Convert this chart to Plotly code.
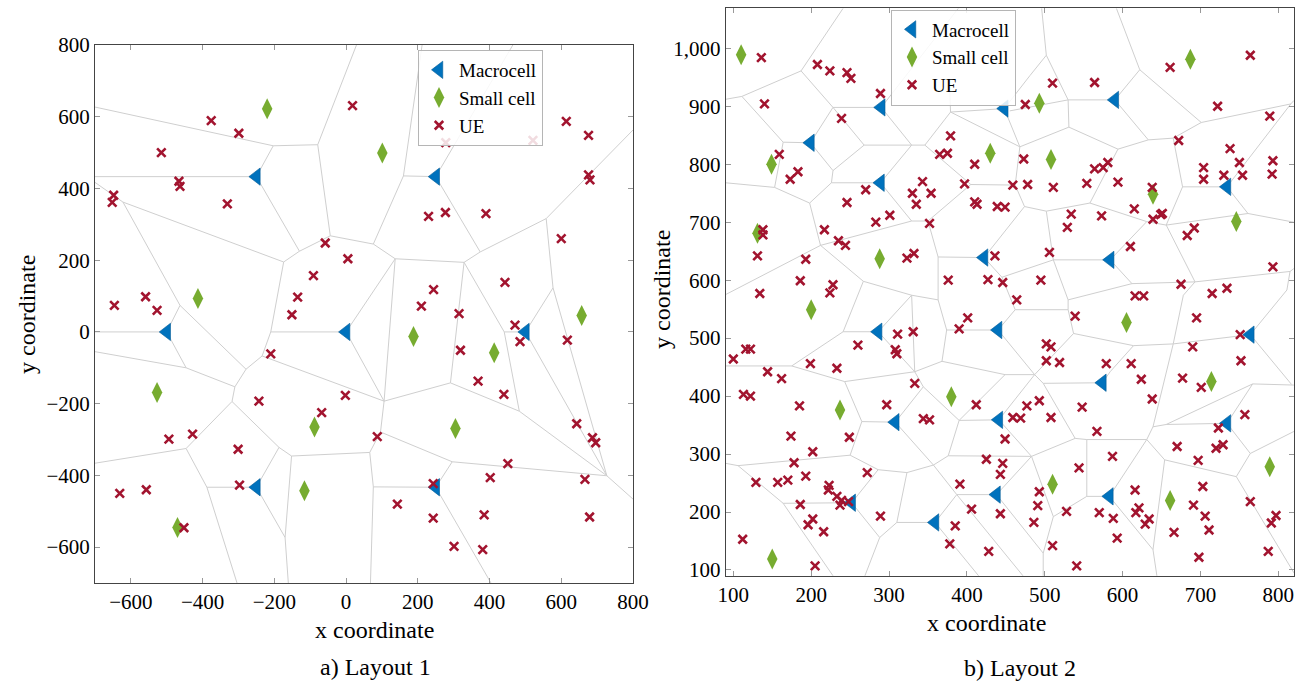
import plotly.graph_objects as go

# ---------------- Layout 1 data ----------------
macro1_x = [-500, -250, 250, 0, 500, -250, 250]
macro1_y = [0, 433, 433, 0, 0, -433, -433]
small1_x = [-220, 101, -413, 657, -527, 188, 413, -88, 305, -116, -470]
small1_y = [622, 499, 93, 46, -169, -13, -58, -265, -269, -443, -545]
ue1_x = [18, -376, -299, -515, -466, -463, -648, -652, -331, -58, 5, -91, -135, -151, -646, -559,
         -527, 278, 521, 614, 676, 676, 680, 230, 277, 390, 600, 443, 244, 210, 315, -210, -243,
         -2, -68, -494, -428, -301, -297, -631, -557, -452, 471, 485, 617, 319, 368, 440, 643,
         687, 696, 87, 451, 402, 666, 243, 143, 243, 385, 679, 301, 381]
ue1_y = [631, 589, 554, 500, 420, 406, 381, 361, 357, 248, 204, 157, 97, 48, 74, 98, 60, 528, 534,
         587, 548, 438, 424, 322, 333, 330, 260, 138, 118, 72, 51, -61, -193, -177, -225, -299,
         -285, -327, -427, -450, -440, -546, 19, -27, -23, -51, -137, -174, -256, -295, -309,
         -292, -367, -406, -411, -423, -480, -519, -510, -516, -598, -607]
# cell boundaries (x0, y0, x1, y1)
edges1 = [
    (-700, 627, -203, 519), (-203, 519, -79, 522), (-79, 522, 29, 800), (-203, 519, -250, 433),
    (-700, 433, -250, 433), (-250, 433, -130, 225), (-79, 522, -44, 268), (-44, 268, -130, 225),
    (-130, 225, -174, 195), (-700, 417, -622, 362), (-622, 362, -174, 195), (-622, 362, -463, 74),
    (-174, 195, -210, 0), (212, 800, 160, 435), (160, 435, 250, 433), (250, 433, 465, 800),
    (250, 433, 374, 223), (160, 435, 76, 245), (-44, 268, 76, 245), (76, 245, 137, 204),
    (137, 204, 329, 194), (374, 223, 329, 194), (374, 223, 558, 316), (558, 316, 800, 563),
    (558, 316, 577, 123), (137, 204, 0, 0), (137, 204, 106, -193), (329, 194, 291, -142),
    (329, 194, 441, 0), (577, 123, 500, 0), (577, 123, 727, -401), (-463, 74, -500, 0),
    (-700, 0, -500, 0), (-463, 74, -279, -104), (-500, 0, -446, -100), (-700, -55, -446, -100),
    (-446, -100, -310, -153), (-279, -104, -310, -153), (-310, -153, -318, -194),
    (-279, -104, -234, -67), (-234, -67, -210, 0), (-210, 0, 0, 0), (-234, -67, 106, -193),
    (0, 0, 106, -193), (-318, -194, -446, -325), (-318, -194, -187, -322),
    (-187, -322, -152, -346), (-187, -322, -250, -433), (-250, -433, -388, -433),
    (-446, -325, -388, -433), (-446, -325, -700, -366), (-388, -433, -304, -700),
    (-250, -433, -170, -573), (-152, -346, -170, -573), (-170, -573, -161, -700),
    (-152, -346, 66, -336), (106, -193, 291, -142), (291, -142, 483, -221), (483, -221, 441, 0),
    (441, 0, 500, 0), (500, 0, 727, -401), (483, -221, 727, -401), (727, -401, 800, -466),
    (727, -401, 296, -362), (296, -362, 96, -279), (96, -279, 106, -193), (96, -279, 66, -336),
    (66, -336, 76, -432), (76, -432, 68, -700), (76, -432, 250, -433), (250, -433, 296, -362),
    (250, -433, 404, -700),
]

# ---------------- Layout 2 data ----------------
macro2_x = [290, 199, 289, 448, 422, 590, 734, 584, 286, 308, 252, 359, 438, 441, 440, 764, 574, 734, 583]
macro2_y = [898, 837, 768, 896, 639, 911, 761, 635, 511, 355, 216, 182, 230, 359, 514, 506, 423, 353, 227]
small2_x = [110, 149, 131, 288, 430, 493, 508, 687, 639, 746, 200, 237, 380, 150, 605, 714, 789, 510, 661]
small2_y = [989, 800, 681, 637, 819, 905, 808, 981, 748, 701, 549, 376, 399, 119, 527, 425, 278, 248, 220]
ue2_x = [136, 208, 224, 246, 251, 289, 140, 239, 379, 365, 375, 159, 183, 173, 410, 397, 343, 330,
         354, 335, 270, 246, 410, 413, 439, 449, 459, 301, 283, 352, 138, 138, 217, 235, 244, 131,
         193, 323, 332, 436, 376, 427, 446, 186, 228, 224, 134, 464,
         510, 564, 475, 661, 764, 722, 789, 672, 738, 750, 793, 792, 754, 730, 704, 704, 473, 478,
         511, 554, 564, 575, 581, 594, 638, 615, 639, 651, 649, 692, 683, 534, 529, 573, 610, 506,
         495, 616, 627, 675, 715, 734, 793,
         100, 116, 122, 144, 162, 199, 233, 260, 308, 310, 311, 331, 390, 401, 113, 122, 185, 297,
         333, 344, 352, 412, 174, 249, 202, 178, 129, 157, 170, 193, 272, 223, 222, 233, 239, 248,
         237, 186, 202, 196, 216, 289, 385, 378, 406, 391, 425, 446, 443, 443, 449, 459, 428, 112,
         205,
         539, 695, 690, 751, 752, 502, 508, 502, 519, 579, 611, 624, 638, 677, 701, 757, 477, 493,
         469, 508, 548, 567, 723, 670, 720, 729, 697, 587, 544, 616, 703, 691, 706, 711, 764, 797,
         791, 787, 493, 491, 486, 528, 570, 588, 621, 617, 634, 629, 593, 666, 510, 541, 698]
ue2_y = [984, 972, 961, 958, 948, 922, 904, 879, 849, 817, 819, 817, 787, 774, 800, 766, 770, 750,
         750, 731, 756, 734, 735, 731, 727, 726, 764, 712, 700, 698, 687, 678, 687, 668, 660, 642,
         636, 638, 646, 642, 600, 601, 596, 599, 592, 578, 577, 566,
         940, 941, 903, 967, 988, 900, 883, 841, 827, 803, 806, 783, 781, 781, 794, 774, 809, 765,
         760, 767, 792, 794, 803, 769, 760, 723, 705, 715, 713, 690, 677, 714, 691, 711, 658, 648,
         600, 573, 573, 593, 577, 586, 623,
         464, 481, 481, 442, 430, 456, 448, 488, 480, 473, 507, 511, 516, 535, 403, 400, 383, 385,
         422, 361, 359, 385, 331, 329, 304, 285, 251, 251, 255, 262, 268, 246, 238, 227, 220, 218,
         212, 213, 188, 178, 166, 193, 176, 145, 205, 248, 291, 284, 265, 197, 326, 363, 132, 153,
         107,
         538, 535, 485, 506, 461, 490, 485, 461, 458, 456, 456, 429, 395, 431, 415, 368, 383, 392,
         362, 363, 381, 339, 345, 313, 310, 316, 289, 296, 276, 238, 244, 212, 193, 169, 218, 194,
         181, 132, 235, 211, 182, 201, 199, 189, 207, 199, 188, 179, 155, 165, 142, 107, 122]
edges2 = [
    (241, 1069, 187, 961), (187, 961, 111, 917), (111, 917, 90, 912), (111, 917, 164, 838),
    (187, 961, 228, 898), (228, 898, 290, 898), (290, 898, 389, 1069), (228, 898, 268, 833),
    (228, 898, 199, 837), (164, 838, 199, 837), (199, 837, 228, 789), (268, 833, 228, 789),
    (268, 833, 329, 833), (290, 898, 329, 833), (289, 768, 329, 833), (228, 789, 226, 768),
    (226, 768, 289, 768), (164, 838, 153, 760), (153, 760, 90, 768), (153, 760, 198, 733),
    (226, 768, 198, 733), (198, 733, 212, 660), (212, 660, 90, 575), (212, 660, 329, 702),
    (289, 768, 329, 702), (329, 702, 350, 702), (329, 833, 346, 833), (346, 833, 379, 890),
    (379, 890, 378, 925), (379, 890, 448, 896), (379, 890, 468, 830), (448, 896, 468, 830),
    (468, 830, 531, 864), (531, 864, 530, 911), (530, 911, 590, 911), (530, 911, 502, 988),
    (502, 988, 496, 1069), (502, 988, 481, 953), (448, 896, 481, 953), (530, 911, 455, 892),
    (531, 864, 594, 826), (594, 826, 633, 842), (590, 911, 633, 842), (590, 911, 622, 963),
    (622, 963, 592, 1069), (622, 963, 701, 872), (633, 842, 665, 845), (665, 845, 701, 872),
    (701, 872, 816, 904), (734, 761, 816, 904), (816, 904, 820, 910), (665, 845, 677, 761),
    (677, 761, 734, 761), (677, 761, 656, 695), (734, 761, 761, 715), (761, 715, 820, 700),
    (761, 715, 656, 695), (656, 695, 631, 701), (631, 701, 558, 733), (584, 635, 631, 701),
    (594, 826, 558, 733), (558, 733, 502, 719), (502, 719, 474, 727), (474, 727, 462, 764),
    (462, 764, 468, 830), (462, 764, 405, 765), (405, 765, 346, 833), (405, 765, 350, 702),
    (474, 727, 422, 639), (502, 719, 511, 635), (511, 635, 584, 635), (511, 635, 445, 605),
    (422, 639, 445, 605), (445, 605, 462, 549), (462, 549, 440, 514), (462, 549, 530, 549),
    (511, 635, 530, 566), (530, 566, 530, 549), (530, 566, 612, 594), (584, 635, 612, 594),
    (612, 594, 693, 597), (693, 597, 656, 695), (693, 597, 815, 615), (815, 615, 820, 620),
    (764, 506, 811, 583), (811, 583, 815, 615), (693, 597, 678, 574), (678, 574, 665, 490),
    (665, 490, 764, 506), (665, 490, 614, 487), (614, 487, 584, 442), (584, 442, 574, 423),
    (614, 487, 537, 508), (537, 508, 530, 549), (537, 508, 487, 437), (487, 437, 440, 514),
    (487, 437, 441, 359), (487, 437, 449, 437), (449, 437, 368, 460), (449, 437, 390, 358),
    (487, 437, 498, 422), (498, 422, 574, 423), (498, 422, 539, 327), (539, 327, 554, 325),
    (554, 325, 631, 325), (554, 325, 554, 227), (631, 325, 583, 227), (631, 325, 639, 347),
    (631, 325, 654, 290), (639, 347, 665, 490), (639, 347, 656, 351), (656, 351, 734, 353),
    (656, 351, 767, 421), (734, 353, 767, 421), (767, 421, 820, 419), (764, 506, 817, 420),
    (734, 353, 764, 301), (764, 301, 820, 339), (764, 301, 746, 261), (746, 261, 654, 290),
    (746, 261, 820, 95), (654, 290, 639, 135), (583, 227, 639, 135), (639, 135, 644, 90),
    (583, 227, 554, 227), (554, 227, 511, 192), (511, 192, 498, 129), (511, 192, 483, 296),
    (498, 129, 438, 230), (498, 129, 498, 90), (483, 296, 539, 327), (483, 296, 438, 230),
    (483, 296, 441, 359), (483, 296, 376, 297), (376, 297, 357, 281), (376, 297, 390, 358),
    (390, 358, 441, 359), (390, 358, 344, 416), (344, 416, 308, 355), (344, 416, 333, 442),
    (333, 442, 368, 460), (368, 460, 374, 514), (374, 514, 440, 514), (374, 514, 363, 566),
    (363, 566, 363, 640), (363, 640, 422, 639), (363, 640, 350, 702), (363, 566, 329, 574),
    (329, 574, 267, 598), (329, 574, 286, 511), (329, 574, 333, 442), (286, 511, 333, 442),
    (267, 598, 212, 660), (267, 598, 241, 511), (241, 511, 286, 511), (241, 511, 175, 452),
    (175, 452, 90, 452), (175, 452, 243, 425), (243, 425, 333, 442), (243, 425, 265, 356),
    (265, 356, 308, 355), (265, 356, 250, 298), (250, 298, 106, 280), (106, 280, 90, 284),
    (106, 280, 164, 215), (250, 298, 286, 273), (286, 273, 252, 216), (286, 273, 323, 268),
    (323, 268, 310, 182), (323, 268, 357, 281), (357, 281, 308, 355), (357, 281, 387, 230),
    (387, 230, 438, 230), (387, 230, 359, 182), (387, 230, 472, 90), (359, 182, 415, 90),
    (310, 182, 359, 182), (310, 182, 288, 156), (288, 156, 252, 216), (288, 156, 269, 90),
    (252, 216, 164, 215), (164, 215, 228, 90),
]

FONT = "Liberation Serif"
MACRO_C, SMALL_C, UE_C, EDGE_C = "#0072BD", "#77AC30", "#A2142F", "#cfcfcf"


def seg_xy(edges):
    xs, ys = [], []
    for x0, y0, x1, y1 in edges:
        xs += [x0, x1, None]
        ys += [y0, y1, None]
    return xs, ys


fig = go.Figure()
panels = [
    ("x", "y", "legend", edges1, macro1_x, macro1_y, small1_x, small1_y, ue1_x, ue1_y),
    ("x2", "y2", "legend2", edges2, macro2_x, macro2_y, small2_x, small2_y, ue2_x, ue2_y),
]
for xa, ya, lg, edges, mx, my, sx, sy, ux, uy in panels:
    ex, ey = seg_xy(edges)
    fig.add_trace(go.Scatter(x=ex, y=ey, mode="lines", line=dict(color=EDGE_C, width=1),
                             showlegend=False, hoverinfo="skip", xaxis=xa, yaxis=ya))
    fig.add_trace(go.Scatter(x=mx, y=my, mode="markers", name="Macrocell", legend=lg,
                             marker=dict(symbol="triangle-left", size=15, color=MACRO_C,
                                         line=dict(width=0.6, color="#005a96")),
                             xaxis=xa, yaxis=ya))
    fig.add_trace(go.Scatter(x=sx, y=sy, mode="markers", name="Small cell", legend=lg,
                             marker=dict(symbol="diamond-tall", size=15, color=SMALL_C,
                                         line=dict(width=0)),
                             xaxis=xa, yaxis=ya))
    fig.add_trace(go.Scatter(x=ux, y=uy, mode="markers", name="UE", legend=lg,
                             marker=dict(symbol="x-thin", size=8.5, color=UE_C,
                                         line=dict(width=2.6, color=UE_C)),
                             xaxis=xa, yaxis=ya))

W, H = 1301, 689
axis_common = dict(showgrid=False, zeroline=False, showline=True, linecolor="#444", linewidth=1,
                   mirror="ticks", ticks="inside", ticklen=5, tickcolor="#999", tickwidth=1,
                   automargin=False,
                   tickfont=dict(family=FONT, size=21, color="black"))

legend_common = dict(xanchor="left", yanchor="top", bgcolor="rgba(255,255,255,0.85)",
                     bordercolor="#b5b5b5", borderwidth=1, font=dict(family=FONT, size=19),
                     itemwidth=30, tracegroupgap=0)

fig.update_layout(
    width=W, height=H, margin=dict(l=0, r=0, t=0, b=0, autoexpand=False),
    paper_bgcolor="white", plot_bgcolor="white",
    font=dict(family=FONT, size=21, color="black"),
    xaxis=dict(domain=[95 / W, 633 / W], range=[-700, 800],
               tickvals=[-600, -400, -200, 0, 200, 400, 600, 800], anchor="y", **axis_common),
    yaxis=dict(domain=[1 - 583 / H, 1 - 45 / H], range=[-700, 800],
               tickvals=[-600, -400, -200, 0, 200, 400, 600, 800], anchor="x", **axis_common),
    xaxis2=dict(domain=[725.7 / W, 1294.3 / W], range=[90.2, 820.5],
                tickvals=[100, 200, 300, 400, 500, 600, 700, 800], anchor="y2", **axis_common),
    yaxis2=dict(domain=[1 - 576 / H, 1 - 8.3 / H], range=[89.6, 1069],
                tickvals=[100, 200, 300, 400, 500, 600, 700, 800, 900, 1000], tickformat=",d",
                anchor="x2", **axis_common),
    legend=dict(x=418 / W, y=1 - 50 / H, **legend_common),
    legend2=dict(x=891 / W, y=1 - 9.5 / H, **legend_common),
)

ann = [
    ("x coordinate", 374, 630, 0, 24), ("y coordinate", 27, 315, -90, 24),
    ("x coordinate", 986, 623, 0, 24), ("y coordinate", 662, 290, -90, 24),
    ("a) Layout 1", 375, 667, 0, 24), ("b) Layout 2", 1020, 668, 0, 24),
]
for text, px, py, ang, fs in ann:
    fig.add_annotation(text=text, x=px / W, y=1 - py / H, xref="paper", yref="paper",
                       showarrow=False, textangle=ang, xanchor="center", yanchor="middle",
                       font=dict(family=FONT, size=fs, color="black"))

fig.write_html("out.html")
